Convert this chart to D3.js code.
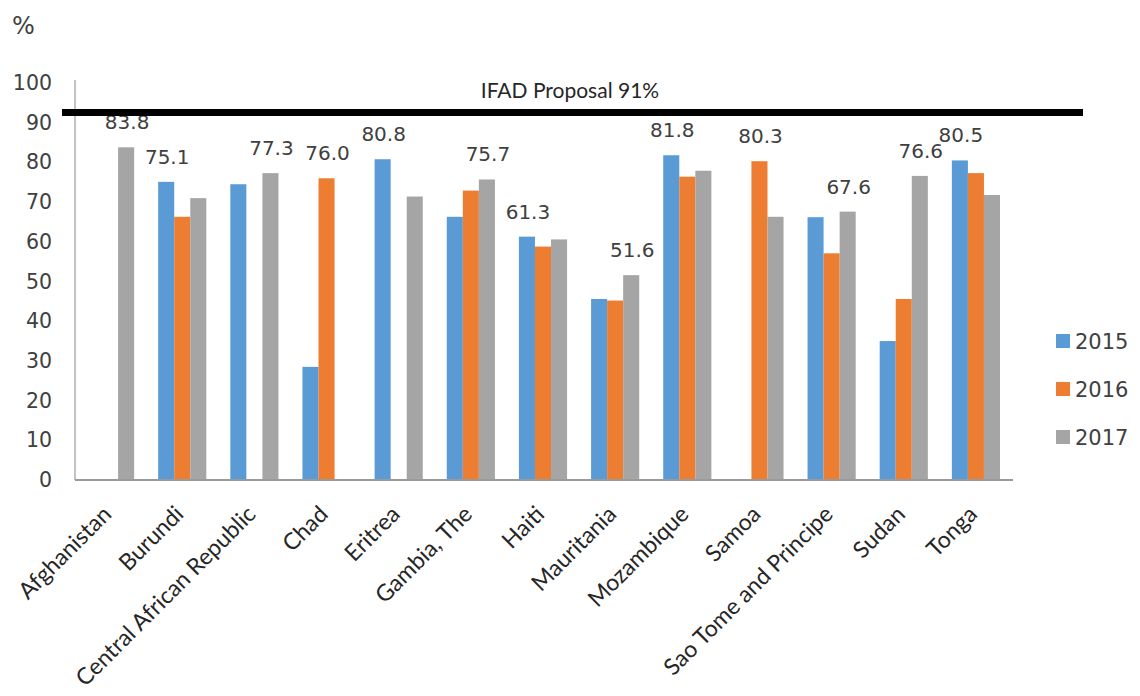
<!DOCTYPE html>
<html>
<head>
<meta charset="utf-8">
<script src="https://cdn.jsdelivr.net/npm/d3@7"></script>
<style>
  html, body { margin: 0; padding: 0; background: #ffffff; }
  svg { display: block; }
</style>
</head>
<body>
<svg id="chart" width="1140" height="696"></svg>
<script>
// ---------------- DATA ----------------
const categories = ["Afghanistan", "Burundi", "Central African Republic", "Chad", "Eritrea",
  "Gambia, The", "Haiti", "Mauritania", "Mozambique", "Samoa",
  "Sao Tome and Principe", "Sudan", "Tonga"];
const seriesNames = ["2015", "2016", "2017"];
const values2015 = [null, 75.1, 74.5, 28.5, 80.8, 66.3, 61.3, 45.6, 81.8, null, 66.2, 35.0, 80.5];
const values2016 = [null, 66.3, null, 76.0, null, 72.9, 58.8, 45.2, 76.4, 80.3, 57.1, 45.6, 77.3];
const values2017 = [83.8, 71.0, 77.3, null, 71.4, 75.7, 60.6, 51.6, 77.9, 66.3, 67.6, 76.6, 71.8];
const yTicks = [0, 10, 20, 30, 40, 50, 60, 70, 80, 90, 100];
const targetLabel = "IFAD Proposal 91%";
const targetLineValue = 92.6; // where the reference draws the thick line
const unitLabel = "%";
const colors = ["#5B9BD5", "#ED7D31", "#A5A5A5"];

// ---------------- LAYOUT ----------------
const svg = d3.select("#chart");
const plotLeft = 75, plotRight = 1013, plotTop = 83, plotBottom = 480;
const textColor = "#404040";
const numFont = "'DejaVu Sans', Verdana, sans-serif";
const labFont = "Lato, Carlito, Calibri, sans-serif";

const allSeries = [values2015, values2016, values2017];

const x0 = d3.scaleBand().domain(categories).range([plotLeft, plotRight]).padding(0);
const x1 = d3.scaleBand().domain(seriesNames).range([11, x0.bandwidth() - 13]).padding(0);
const y = d3.scaleLinear().domain([0, 100]).range([plotBottom, plotTop]);
const color = d3.scaleOrdinal().domain(seriesNames).range(colors);

// unit label
svg.append("text")
  .attr("x", 12).attr("y", 34)
  .attr("font-family", numFont).attr("font-size", 24)
  .attr("fill", textColor)
  .text(unitLabel);

// y axis ticks (labels only)
const yAxis = d3.axisLeft(y).tickValues(yTicks).tickSize(0).tickPadding(23)
  .tickFormat(d3.format("d"));
const gy = svg.append("g").attr("transform", `translate(${plotLeft},0)`).call(yAxis);
gy.select(".domain").remove();
gy.selectAll("text")
  .attr("font-family", numFont).attr("font-size", 20.5)
  .attr("fill", textColor);

// y axis line
svg.append("line")
  .attr("x1", plotLeft).attr("x2", plotLeft)
  .attr("y1", y(100) - 3).attr("y2", plotBottom)
  .attr("stroke", "#9a9a9a").attr("stroke-width", 1.2);

// bars
const flat = [];
categories.forEach((c, i) => {
  seriesNames.forEach((s, j) => {
    const v = allSeries[j][i];
    if (v !== null && v !== undefined) flat.push({ cat: c, series: s, value: v, idx: i });
  });
});

svg.append("g").selectAll("rect")
  .data(flat)
  .join("rect")
  .attr("x", d => x0(d.cat) + x1(d.series))
  .attr("y", d => y(d.value))
  .attr("width", x1.bandwidth())
  .attr("height", d => y(0) - y(d.value))
  .attr("fill", d => color(d.series));

// x axis line
svg.append("line")
  .attr("x1", plotLeft).attr("x2", plotRight)
  .attr("y1", plotBottom).attr("y2", plotBottom)
  .attr("stroke", "#9a9a9a").attr("stroke-width", 2);

// value labels (max of each category)
const maxes = categories.map((c, i) => {
  let best = null;
  seriesNames.forEach((s, j) => {
    const v = allSeries[j][i];
    if (v !== null && (best === null || v > best.value)) best = { cat: c, series: s, value: v };
  });
  return best;
});
svg.append("g").selectAll("text")
  .data(maxes)
  .join("text")
  .attr("x", d => x0(d.cat) + x1(d.series) + x1.bandwidth() / 2 + 1)
  .attr("y", d => y(d.value) - 18)
  .attr("text-anchor", "middle")
  .attr("font-family", numFont).attr("font-size", 20)
  .attr("fill", textColor)
  .text(d => d.value.toFixed(1));

// category labels
svg.append("g").selectAll("text")
  .data(categories)
  .join("text")
  .attr("transform", d => `translate(${x0(d) + x0.bandwidth() / 2 - 4},${plotBottom + 30}) rotate(-45)`)
  .attr("text-anchor", "end")
  .attr("dy", "0.35em")
  .attr("font-family", labFont).attr("font-size", 23)
  .attr("fill", "#262626")
  .text(d => d);

// target line
svg.append("line")
  .attr("x1", 62).attr("x2", 1083)
  .attr("y1", y(targetLineValue)).attr("y2", y(targetLineValue))
  .attr("stroke", "#000").attr("stroke-width", 7);
svg.append("text")
  .attr("x", 570).attr("y", y(targetLineValue) - 14)
  .attr("text-anchor", "middle")
  .attr("font-family", labFont).attr("font-size", 21)
  .attr("fill", "#262626")
  .text(targetLabel);

// legend
const legend = svg.append("g").selectAll("g")
  .data(seriesNames)
  .join("g")
  .attr("transform", (d, i) => `translate(1056,${341 + i * 48})`);
legend.append("rect")
  .attr("x", 0).attr("y", -7).attr("width", 14).attr("height", 14)
  .attr("fill", d => color(d));
legend.append("text")
  .attr("x", 19).attr("y", 0).attr("dy", "0.36em")
  .attr("font-family", numFont).attr("font-size", 21)
  .attr("fill", textColor)
  .text(d => d);
</script>
</body>
</html>
